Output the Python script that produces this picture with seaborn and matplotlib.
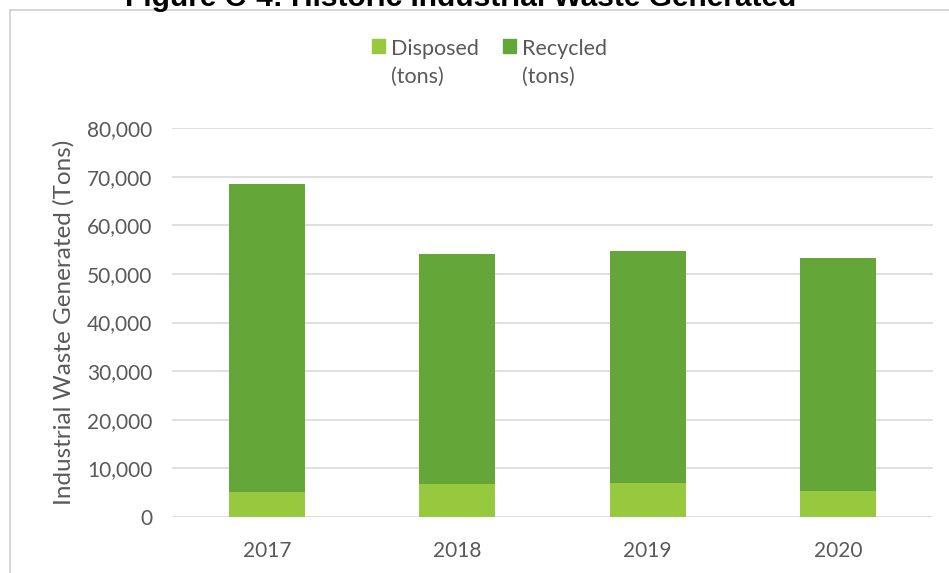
import matplotlib
matplotlib.use("Agg")
import matplotlib.pyplot as plt
import matplotlib.patches as mpatches
import seaborn as sns
import pandas as pd

years = ["2017", "2018", "2019", "2020"]
disposed = [5200, 6700, 6900, 5400]
recycled = [63300, 47400, 47900, 47800]
yticks = [0, 10000, 20000, 30000, 40000, 50000, 60000, 70000, 80000]

total = [d + r for d, r in zip(disposed, recycled)]
df = pd.DataFrame({"year": years, "disposed": disposed, "total": total})

c_disp = "#96C93D"
c_rec = "#64A638"
txt = "#595959"

sns.set_style("white")
plt.rcParams["font.family"] = ["Lato", "DejaVu Sans"]

fig = plt.figure(figsize=(9.49, 5.73), dpi=100)
ax = fig.add_axes([172 / 949, 56 / 573, 761 / 949, 389 / 573])

sns.barplot(data=df, x="year", y="total", color=c_rec, width=0.4,
            saturation=1, ax=ax, zorder=3, linewidth=0, edgecolor="none")
sns.barplot(data=df, x="year", y="disposed", color=c_disp, width=0.4,
            saturation=1, ax=ax, zorder=3, linewidth=0, edgecolor="none")

ax.set_ylim(0, 80000)
ax.set_xlim(-0.5, 3.5)
ax.set_yticks(yticks)
ax.set_yticklabels([f"{v:,}" for v in yticks])
ax.yaxis.grid(True, color="#D9D9D9", linewidth=1.2, zorder=0)
ax.set_axisbelow(True)
for s in ax.spines.values():
    s.set_visible(False)
ax.tick_params(axis="both", length=0, labelsize=15, labelcolor=txt)
ax.tick_params(axis="y", pad=14)
ax.tick_params(axis="x", pad=17)
ax.set_xlabel("")
ax.set_ylabel("Industrial Waste Generated (Tons)", fontsize=17.5, color=txt, labelpad=9)

handles = [mpatches.Patch(color=c_disp), mpatches.Patch(color=c_rec)]
leg = fig.legend(handles, ["Disposed\n(tons)", "Recycled\n(tons)"], ncol=2,
                 loc="upper center", bbox_to_anchor=(0.516, 0.965), frameon=False,
                 fontsize=15.5, handlelength=0.6, handleheight=0.6,
                 handletextpad=0.3, columnspacing=1.1, labelcolor=txt,
                 labelspacing=0.3)
try:
    for col in leg._legend_handle_box.get_children():
        for item in col.get_children():
            item.align = "top"
except Exception:
    pass
for t in leg.get_texts():
    t.set_linespacing(1.45)

# outer frame
frame = mpatches.Rectangle((10 / 949, -0.1), 1.2, 1 - 10 / 573 + 0.1,
                           transform=fig.transFigure, fill=False,
                           edgecolor="#D0D0D0", linewidth=1.2)
fig.patches.append(frame)

fig.text(0.485, 1 - 6 / 573, "Figure C-4: Historic Industrial Waste Generated",
         ha="center", va="baseline", fontsize=21.5, fontweight="bold",
         family=["Liberation Sans", "DejaVu Sans"], color="black")

fig.savefig("out.png", dpi=100)
